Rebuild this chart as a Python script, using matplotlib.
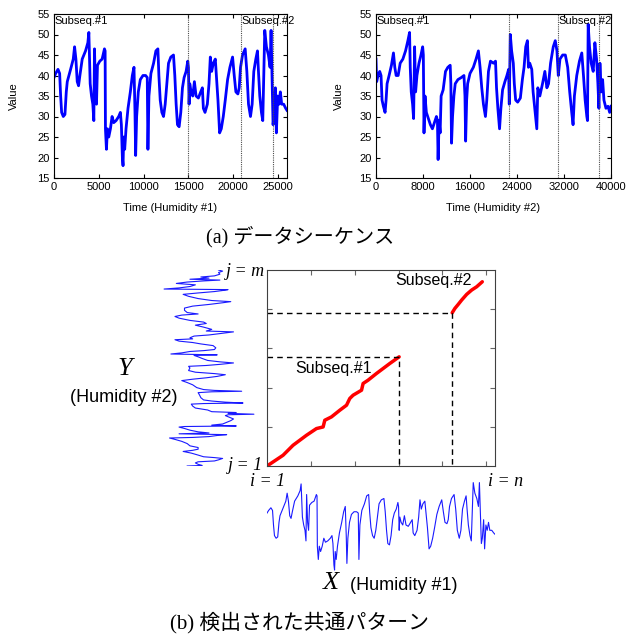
import matplotlib
matplotlib.use("Agg")
import matplotlib.pyplot as plt

plt.rcParams['font.family'] = ['Liberation Sans', 'DejaVu Sans']

# Humidity #1 (X): time index, value
h1_t = [0, 185, 444, 630, 741, 852, 1037, 1222, 1370, 1481, 1852, 2148, 2296, 2444, 2593,
        2741, 2889, 3148, 3519, 3778, 3889, 3963, 4037, 4185, 4333, 4444, 4519, 4630, 4741,
        4852, 5111, 5370, 5630, 5704, 5741, 5852, 5963, 6111, 6296, 6481, 6667, 6926, 7222,
        7407, 7519, 7630, 7704, 7778, 7889, 8037, 8259, 8519, 8741, 8926, 9037, 9111, 9222,
        9407, 9630, 9926, 10222, 10407, 10481, 10593, 10815, 11111, 11370, 11593, 11704,
        11852, 12037, 12222, 12407, 12593, 12778, 13037, 13333, 13481, 13630, 13778, 13963,
        14148, 14333, 14519, 14741, 14926, 15000, 15074, 15148, 15296, 15481, 15667, 15852,
        16111, 16370, 16556, 16667, 16852, 17111, 17296, 17444, 17593, 17778, 18000, 18148,
        18296, 18481, 18667, 18889, 19111, 19370, 19630, 19926, 20111, 20296, 20519, 20667,
        20815, 21037, 21333, 21519, 21704, 21926, 22111, 22296, 22519, 22704, 22815, 22963,
        23148, 23296, 23407, 23519, 23704, 23926, 24111, 24222, 24333, 24444, 24556, 24704,
        24815, 24963, 25111, 25259, 25407, 25630, 25852, 26000]
h1_v = [39.5, 40.5, 41.5, 40.5, 35, 31, 30, 30.5, 36, 38.5, 41.5, 44, 47, 44, 38.5,
        37.5, 40, 44, 46, 48, 50.5, 44, 38, 35, 33, 29, 46.5, 36, 33,
        42.5, 43.5, 44, 46.5, 46, 27, 22, 27, 25, 27, 30, 28.5, 29, 30,
        31, 28, 20, 18, 25, 22, 27, 32, 36, 40, 42, 31, 20.5, 30,
        36, 39, 40, 40, 39.5, 22, 35, 40.5, 43, 46, 46.5, 40,
        34, 31, 30, 33, 38, 43, 44.5, 45, 40, 33, 28, 27.5,
        31, 37, 39.5, 41, 43.5, 42, 33, 38, 36, 35, 38.5, 35,
        34.5, 36, 37, 32, 31, 33, 38, 44.5, 41, 43, 44, 39,
        34, 26, 27, 30, 34, 39, 42, 44.5, 40, 36, 35.5, 37,
        42, 45, 46.5, 41, 33, 30, 33, 41, 44, 46, 41, 35,
        31, 29, 40, 51, 47, 45, 42, 51, 39, 28, 30, 37,
        26, 35, 33, 36, 33, 33, 32, 31.5]

# Humidity #2 (Y): time index, value
h2_t = [0, 114, 343, 629, 857, 1029, 1257, 1543, 1714, 1886, 2229, 2629, 2971, 3200, 3429,
        3771, 4114, 4571, 5029, 5429, 5714, 5829, 6000, 6229, 6400, 6571, 6743, 6971, 7314,
        7657, 7943, 8057, 8171, 8343, 8571, 8914, 9257, 9600, 9943, 10286, 10457, 10571,
        10743, 10914, 11086, 11429, 11829, 12229, 12629, 12743, 12857, 13029, 13257, 13486,
        13943, 14514, 14971, 15143, 15257, 15429, 15600, 16000, 16571, 17029, 17429, 17714,
        18000, 18286, 18629, 18857, 19143, 19486, 20000, 20343, 20514, 20743, 21029, 21257,
        21543, 21943, 22286, 22571, 22686, 22857, 23086, 23371, 23543, 23771, 24114, 24571,
        24914, 25200, 25486, 25771, 25943, 26171, 26514, 26743, 27029, 27371, 27543, 27886,
        28343, 28743, 29086, 29371, 29714, 30171, 30514, 30800, 31029, 31314, 31771, 32229,
        32629, 32971, 33314, 33543, 33771, 34171, 34629, 35029, 35314, 35600, 35886, 36000,
        36114, 36343, 36629, 36971, 37257, 37543, 37771, 37943, 38114, 38343, 38571, 38800,
        39143, 39486, 39771, 40000]
h2_v = [44, 38.5, 40, 41, 40, 34, 32.5, 31, 34, 38, 40, 42.5, 45.5, 42, 40,
        40, 43, 44, 46, 48.5, 50.5, 42, 36, 33, 29.5, 47, 36, 40, 43,
        45, 47, 45, 26, 35, 31, 29.5, 28, 27, 28.5, 30, 29, 19.5,
        29, 26, 35, 36.5, 41, 42, 42.5, 38, 23.5, 30, 35, 38,
        39, 39.5, 40, 35, 24, 34, 38, 40.5, 42, 44, 46, 42,
        37, 33, 30, 34, 41, 43.5, 43, 43.5, 37, 32, 27, 32,
        36.5, 38.5, 40, 41.5, 33, 50, 46, 43, 38, 34, 33.5, 34.5,
        39, 42, 47, 48.5, 42, 43, 41.5, 36, 32, 27, 37, 35,
        38, 41, 37, 38, 43, 47, 48.5, 46, 40, 44, 45, 45,
        42, 36, 31, 28, 35, 40, 43.5, 45.5, 40, 34, 30, 29,
        52.5, 47, 43, 41, 48, 44, 38, 32, 43, 36, 39, 34,
        32, 32.5, 31, 32.5]

# subsequence boundaries marked in (a)
h1_marks = [15000, 20900, 24400]
h2_marks = [22600, 31000, 37900]

# warping paths of the detected subsequences (i on X, j on Y)
path1_i = [0, 1830, 2970, 4500, 5640, 6400, 6590, 7350, 8300, 9070, 9440, 9820, 10780,
           10960, 11530, 12490, 13250, 14010, 15070]
path1_j = [0, 2190, 4230, 6270, 7640, 7970, 9340, 10020, 11380, 12410, 13780, 14450, 15470,
           16840, 17520, 18890, 19910, 20930, 22280]
path2_i = [21120, 21430, 21810, 22200, 22770, 23340, 23910, 24550]
path2_j = [31270, 32170, 32990, 33870, 35030, 35910, 36580, 37600]

W, H = 628, 637
fig = plt.figure(figsize=(W / 100, H / 100), dpi=100)


def rect(x0, y0, x1, y1):
    return [x0 / W, 1 - y1 / H, (x1 - x0) / W, (y1 - y0) / H]


def series_panel(r, t, v, marks, xmax, xticks, xlabel, ylab_x):
    ax = fig.add_axes(rect(*r))
    ax.plot(t, v, color='#0000ff', lw=2.0)
    for m in marks:
        ax.axvline(m, color='0.3', lw=0.8, ls=(0, (1, 1)))
    ax.set_xlim(0, xmax)
    ax.set_ylim(15, 55)
    ax.set_xticks(xticks)
    ax.set_yticks(range(15, 56, 5))
    ax.tick_params(direction='in', top=True, right=True, labelsize=8, length=3, pad=3)
    ax.set_xlabel(xlabel, fontsize=8)
    ax.set_ylabel('Value', fontsize=8)
    ax.yaxis.set_label_coords(ylab_x, 0.5)
    ax.xaxis.set_label_coords(0.5, -0.15)
    ax.text(0.003, 0.985, 'Subseq.#1', transform=ax.transAxes, fontsize=8, va='top')
    ax.text(marks[1] + xmax * 0.002, 54.6, 'Subseq.#2', fontsize=8, va='top', clip_on=False)
    return ax


series_panel((54, 14, 287, 178), h1_t, h1_v, h1_marks, 26000,
             range(0, 26000, 5000), 'Time (Humidity #1)', -0.15)
series_panel((376, 14, 611, 178), h2_t, h2_v, h2_marks, 40000,
             range(0, 40001, 8000), 'Time (Humidity #2)', -0.135)

cap_font = ['Liberation Serif', 'Noto Sans CJK JP']
fig.text(300 / W, 1 - 237 / H, '(a) データシーケンス', family=cap_font, fontsize=14.5,
         ha='center', va='center')
fig.text(299 / W, 1 - 623 / H, '(b) 検出された共通パターン', family=cap_font, fontsize=15,
         ha='center', va='center')

# main warping panel
ax = fig.add_axes(rect(267, 270, 495, 466))
ax.plot(path1_i, path1_j, color='red', lw=2.5, solid_capstyle='round')
ax.plot(path2_i, path2_j, color='red', lw=2.5, solid_capstyle='round')
ax.plot([0, path1_i[-1], path1_i[-1]], [path1_j[-1], path1_j[-1], 0], color='black',
        lw=1, ls=(0, (4, 3)))
ax.plot([0, path2_i[0], path2_i[0]], [path2_j[0], path2_j[0], 0], color='black',
        lw=1, ls=(0, (4, 3)))
ax.set_xlim(0, 26000)
ax.set_ylim(0, 40000)
ax.set_xticks(range(5000, 26000, 5000))
ax.set_yticks(range(8000, 40000, 8000))
ax.tick_params(direction='in', top=True, right=True, labelbottom=False, labelleft=False,
               length=3.5, color='0.4')
for s in ax.spines.values():
    s.set_color('0.25')
    s.set_linewidth(0.8)
ax.text(11970, 18300, 'Subseq.#1', fontsize=11.5, ha='right', va='bottom')
ax.text(23300, 36300, 'Subseq.#2', fontsize=11.5, ha='right', va='bottom')

# rotated Y series on the left
axy = fig.add_axes(rect(160, 270, 258, 466))
axy.plot(h2_v, h2_t, color='#1a1aff', lw=0.8)
axy.set_ylim(0, 40000)
axy.set_xlim(54, 18)
axy.axis('off')

# X series below
axx = fig.add_axes(rect(267, 472, 495, 578))
axx.plot(h1_t, h1_v, color='#1a1aff', lw=0.8)
axx.set_xlim(0, 26000)
axx.set_ylim(15, 55)
axx.axis('off')

mfont = 'Liberation Serif'
fig.text(265 / W, 1 - 271 / H, 'j = m', family=mfont, style='italic', fontsize=13,
         ha='right', va='center')
fig.text(263 / W, 1 - 466 / H, 'j = 1', family=mfont, style='italic', fontsize=13,
         ha='right', va='center')
fig.text(268 / W, 1 - 481 / H, 'i = 1', family=mfont, style='italic', fontsize=13,
         ha='center', va='center')
fig.text(506 / W, 1 - 481 / H, 'i = n', family=mfont, style='italic', fontsize=13,
         ha='center', va='center')
fig.text(125 / W, 1 - 369 / H, 'Y', family=mfont, style='italic', fontsize=19,
         ha='center', va='center')
fig.text(124 / W, 1 - 397 / H, '(Humidity #2)', fontsize=13, ha='center', va='center')
fig.text(331 / W, 1 - 583 / H, 'X', family=mfont, style='italic', fontsize=19,
         ha='center', va='center')
fig.text(350 / W, 1 - 586 / H, '(Humidity #1)', fontsize=13, ha='left', va='center')

fig.savefig('out.png', dpi=100)
